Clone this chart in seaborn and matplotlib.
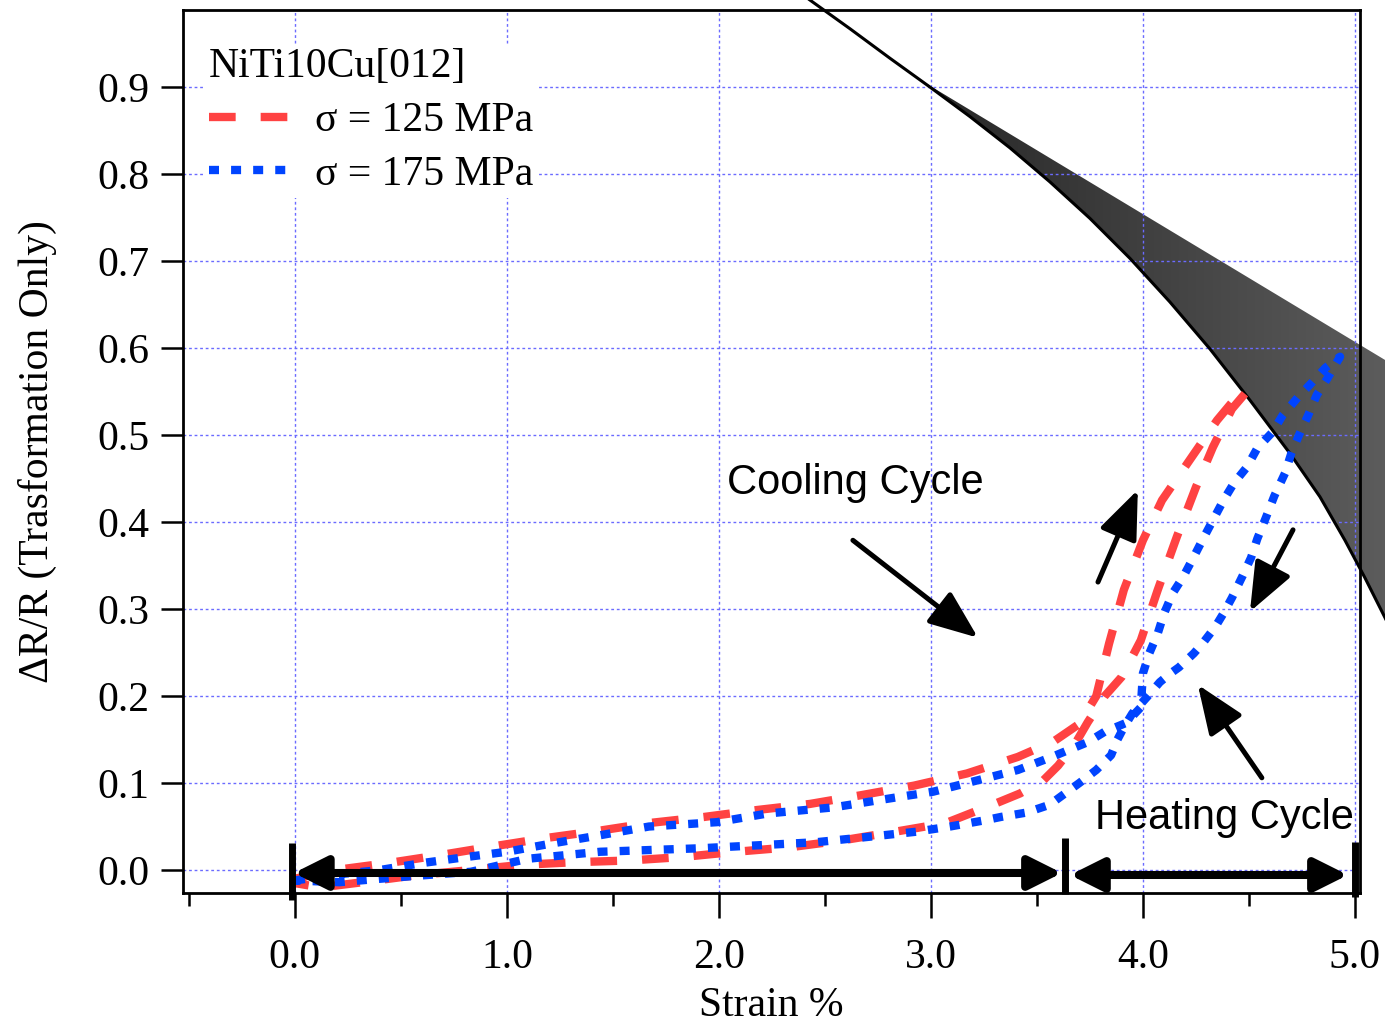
import numpy as np
import pandas as pd
import seaborn as sns
import matplotlib.pyplot as plt
from matplotlib.lines import Line2D
from matplotlib.patches import Polygon
from matplotlib.ticker import FormatStrFormatter
from matplotlib.colors import LinearSegmentedColormap

sns.set_theme(style="ticks")
plt.rcParams['font.family'] = ['Liberation Serif', 'DejaVu Serif']
plt.rcParams['axes.unicode_minus'] = False
plt.rcParams['text.color'] = 'black'
plt.rcParams['axes.labelcolor'] = 'black'

# ---- data ----
# 125 MPa loop: cooling branch (up) and heating branch (back down)
red_cool_x = [0.0, 0.19, 0.44, 0.68, 0.93, 1.19, 1.43, 1.67, 1.93, 2.18, 2.43, 2.67, 2.92, 3.17,
              3.41, 3.58, 3.7, 3.78, 3.84, 3.91, 4.0, 4.09, 4.22, 4.35, 4.47]
red_cool_y = [-0.01, 0.0, 0.008, 0.017, 0.027, 0.037, 0.045, 0.054, 0.061, 0.069, 0.076, 0.086, 0.097, 0.111,
              0.13, 0.148, 0.168, 0.2, 0.26, 0.322, 0.379, 0.425, 0.471, 0.517, 0.552]
red_heat_x = [4.49, 4.42, 4.33, 4.25, 4.16, 4.07, 3.99, 3.9, 3.82, 3.78, 3.74, 3.68, 3.6, 3.53, 3.42,
              3.31, 3.07, 2.83, 2.58, 2.33, 2.08, 1.83, 1.58, 1.32, 1.07, 0.83, 0.57, 0.32, 0.12, 0.0]
red_heat_y = [0.55, 0.53, 0.486, 0.44, 0.383, 0.322, 0.264, 0.222, 0.2, 0.185, 0.17, 0.145, 0.12, 0.103, 0.088,
              0.077, 0.054, 0.044, 0.034, 0.026, 0.021, 0.015, 0.011, 0.009, 0.006, 0.0, -0.006, -0.014, -0.02, -0.015]

# 175 MPa loop
blue_cool_x = [0.0, 0.2, 0.4, 0.6, 0.81, 1.0, 1.2, 1.44, 1.67, 1.99, 2.23, 2.54, 2.85, 3.01, 3.17, 3.41,
               3.56, 3.74, 3.82, 3.92, 3.99, 4.0, 4.03, 4.07, 4.1, 4.14, 4.19, 4.24, 4.28, 4.33, 4.38,
               4.43, 4.49, 4.54, 4.61, 4.66, 4.73, 4.8, 4.86, 4.93]
blue_cool_y = [-0.012, -0.005, 0.0, 0.008, 0.015, 0.021, 0.03, 0.04, 0.05, 0.055, 0.065, 0.072, 0.084, 0.09,
               0.1, 0.115, 0.129, 0.147, 0.159, 0.169, 0.187, 0.226, 0.249, 0.272, 0.295, 0.318, 0.337, 0.36,
               0.379, 0.402, 0.425, 0.445, 0.463, 0.485, 0.503, 0.523, 0.543, 0.561, 0.577, 0.59]
blue_heat_x = [4.93, 4.87, 4.82, 4.78, 4.74, 4.7, 4.67, 4.62, 4.58, 4.54, 4.51, 4.47, 4.42, 4.38, 4.34,
               4.28, 4.24, 4.17, 4.13, 4.08, 4.02, 3.95, 3.91, 3.88, 3.85, 3.78, 3.7, 3.61, 3.56, 3.45,
               3.33, 3.25, 3.09, 2.93, 2.7, 2.46, 2.23, 1.91, 1.44, 1.1, 0.83, 0.5, 0.21, 0.0]
blue_heat_y = [0.59, 0.565, 0.546, 0.523, 0.502, 0.479, 0.456, 0.43, 0.405, 0.381, 0.359, 0.338, 0.313,
               0.295, 0.279, 0.26, 0.249, 0.233, 0.226, 0.216, 0.199, 0.18, 0.164, 0.15, 0.132, 0.115, 0.1,
               0.084, 0.075, 0.066, 0.061, 0.057, 0.05, 0.044, 0.038, 0.032, 0.029, 0.025, 0.021, 0.013,
               -0.002, -0.008, -0.014, -0.012]

# dark wedge in the upper right: black boundary curve and straight upper edge
wedge_curve_x = [2.335, 2.429, 2.618, 2.807, 2.995, 3.184, 3.373, 3.561, 3.750, 3.939, 4.127, 4.316,
                 4.505, 4.693, 4.835, 4.953, 5.047, 5.142, 5.212]
wedge_curve_y = [1.017, 1.0, 0.967, 0.933, 0.9, 0.866, 0.830, 0.791, 0.749, 0.703, 0.653, 0.599,
                 0.540, 0.479, 0.429, 0.379, 0.336, 0.290, 0.253]
wedge_top_x = [2.93, 5.212]
wedge_top_y = [0.911, 0.576]

label_125 = 'σ = 125 MPa'
label_175 = 'σ = 175 MPa'
legend_title = 'NiTi10Cu[012]'
x_ticks = [0.0, 1.0, 2.0, 3.0, 4.0, 5.0]
y_ticks = [0.0, 0.1, 0.2, 0.3, 0.4, 0.5, 0.6, 0.7, 0.8, 0.9]

red = '#ff4242'
blue = '#0044ff'

df = pd.concat([
    pd.DataFrame({'strain': red_cool_x + red_heat_x, 'dR': red_cool_y + red_heat_y, 'load': label_125}),
    pd.DataFrame({'strain': blue_cool_x + blue_heat_x, 'dR': blue_cool_y + blue_heat_y, 'load': label_175}),
], ignore_index=True)

fig = plt.figure(figsize=(13.85, 10.29), dpi=100)
ax = fig.add_axes([183 / 1385, 1 - 893 / 1029, (1360 - 183) / 1385, (893 - 10) / 1029])

# wedge with grey gradient
verts = [(x, y) for x, y in zip(wedge_curve_x, wedge_curve_y) if x > wedge_top_x[0]]
verts = [(wedge_top_x[0], wedge_top_y[0])] + verts + [(wedge_top_x[1], wedge_top_y[1])]
poly = Polygon(verts, closed=True, transform=ax.transData, facecolor='none', edgecolor='none')
cmap = LinearSegmentedColormap.from_list('wedge', ['#252525', '#5e5e5e'])
grad = np.linspace(0, 1, 256).reshape(1, -1)
im = ax.imshow(grad, extent=[wedge_top_x[0], wedge_top_x[1], 0.2, 0.95], aspect='auto',
               cmap=cmap, zorder=0.2, interpolation='bilinear')
im.set_clip_box(fig.bbox)
im.set_clip_path(poly)
ax.plot(wedge_curve_x, wedge_curve_y, color='black', lw=2.2, clip_on=False, zorder=1)

sns.lineplot(data=df, x='strain', y='dR', hue='load', style='load', sort=False, estimator=None,
             palette={label_125: red, label_175: blue},
             dashes={label_125: (3.2, 3.0), label_175: (1.2, 1.45)},
             linewidth=6, legend=False, ax=ax, zorder=3)

ax.set_xlim(-0.528, 5.024)
ax.set_ylim(-0.0264, 0.9885)
ax.set_xticks(x_ticks)
ax.set_xticks(np.arange(-0.5, 5.0, 1.0), minor=True)
ax.set_yticks(y_ticks)
ax.xaxis.set_major_formatter(FormatStrFormatter('%.1f'))
ax.yaxis.set_major_formatter(FormatStrFormatter('%.1f'))
ax.tick_params(axis='x', which='major', direction='out', length=18, width=1.8, labelsize=30, pad=15,
               color='black', labelcolor='black')
ax.tick_params(axis='x', which='minor', direction='out', length=9, width=1.8, color='black')
ax.tick_params(axis='y', which='major', direction='out', length=16, width=1.8, labelsize=30, pad=8,
               color='black', labelcolor='black')
for sp in ax.spines.values():
    sp.set_linewidth(2)
    sp.set_color('black')
ax.set_axisbelow(True)
ax.grid(True, which='major', color='#6b6bff', linestyle=(0, (2, 2)), linewidth=1.0)

ax.set_xlabel('Strain %', fontsize=30, color='black')
ax.set_ylabel('ΔR/R (Trasformation Only)', fontsize=30, color='black')
ax.xaxis.set_label_coords(0.5, -0.106)
ax.yaxis.set_label_coords(-0.107, 0.5)

# legend
handles = [Line2D([], [], color=red, lw=6, dashes=(3.2, 3.0)),
           Line2D([], [], color=blue, lw=6, dashes=(1.2, 1.45))]
ax.legend(handles, [label_125, label_175], title=legend_title, loc='upper left',
          bbox_to_anchor=(0.0187, 0.962), borderaxespad=0, frameon=True, fancybox=False,
          facecolor='white', edgecolor='none', framealpha=1, fontsize=30, title_fontsize=30,
          handlelength=1.9, handletextpad=0.65, labelspacing=0.37, borderpad=0.1, alignment='left',
          labelcolor='black')

# annotations
sans = ['Liberation Sans', 'DejaVu Sans']
ax.text(2.038, 0.445, 'Cooling Cycle', family=sans, fontsize=30, ha='left', va='center', color='black')
ax.text(3.774, 0.0598, 'Heating Cycle', family=sans, fontsize=30, ha='left', va='center', color='black')

single = dict(arrowstyle='-|>,head_length=1.5,head_width=0.6', lw=3.6, color='black',
              mutation_scale=20, shrinkA=0, shrinkB=0)
for tail, tip in [((2.632, 0.379), (3.222, 0.267)),
                  ((3.788, 0.331), (3.976, 0.437)),
                  ((4.708, 0.391), (4.505, 0.297)),
                  ((4.561, 0.106), (4.259, 0.213))]:
    ax.annotate('', xy=tip, xytext=tail, arrowprops=single, zorder=5)

double = dict(arrowstyle='<|-|>,head_length=1.0,head_width=0.5', lw=5.8, color='black',
              mutation_scale=20, shrinkA=0, shrinkB=0)
ax.annotate('', xy=(3.618, -0.0034), xytext=(-0.005, -0.0034), arrowprops=double, zorder=5,
            annotation_clip=False)
ax.annotate('', xy=(4.967, -0.0057), xytext=(3.656, -0.0057), arrowprops=double, zorder=5,
            annotation_clip=False)
for bx, y0, y1 in [(-0.014, -0.0345, 0.031), (3.632, -0.0276, 0.0368), (5.0, -0.031, 0.032)]:
    ax.plot([bx, bx], [y0, y1], color='black', lw=5, solid_capstyle='butt', clip_on=False, zorder=5)

fig.savefig('out.png', dpi=100)
